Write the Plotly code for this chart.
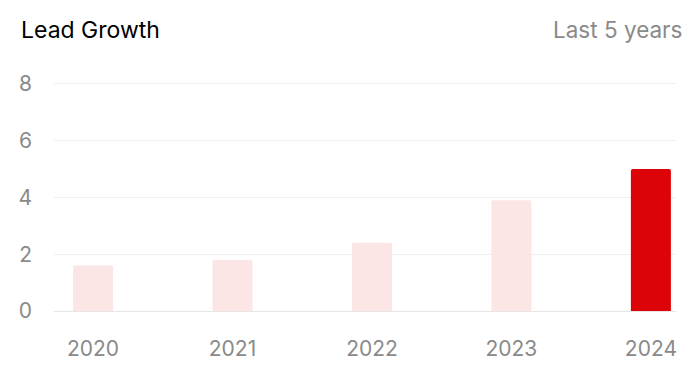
import plotly.graph_objects as go

years = ["2020", "2021", "2022", "2023", "2024"]
leads = [1.6, 1.8, 2.4, 3.9, 5.0]
bar_colors = ["#fce5e5", "#fce5e5", "#fce5e5", "#fce5e5", "#dd0407"]
y_ticks = [0, 2, 4, 6, 8]

W, H = 700, 365
L, R, T, B = 54, 24, 81, 54
pw = W - L - R
ph = H - T - B

fig = go.Figure(go.Bar(
    x=years, y=leads,
    marker=dict(color=bar_colors, line=dict(width=0), cornerradius=2),
    width=0.287,
    hoverinfo="x+y",
))

fig.update_layout(
    width=W, height=H,
    margin=dict(l=L, r=R, t=T, b=B),
    paper_bgcolor="white", plot_bgcolor="white",
    font=dict(family="Inter, Roboto, sans-serif", size=21, color="#8a8a8a"),
    showlegend=False,
    xaxis=dict(
        type="category", range=[-0.28, 4.18],
        showgrid=False, zeroline=False, showline=False, ticks="",
        ticklabelstandoff=23, automargin=False,
        tickfont=dict(size=21, color="#8a8a8a"),
        fixedrange=True,
    ),
    yaxis=dict(
        range=[0, 8.1], tickvals=y_ticks,
        showgrid=True, gridcolor="#efefef", gridwidth=1,
        zeroline=True, zerolinecolor="#e6e6e6", zerolinewidth=1,
        showline=False, ticks="",
        ticklabelstandoff=21, automargin=False,
        tickfont=dict(size=21, color="#8a8a8a"),
        fixedrange=True,
    ),
    annotations=[
        dict(text="Lead Growth", xref="paper", yref="paper",
             x=(19 - L) / pw, y=(H - B - 30) / ph,
             xanchor="left", yanchor="middle", showarrow=False,
             font=dict(family="Inter, Roboto, sans-serif", size=23, color="#000000", weight=400)),
        dict(text="Last 5 years", xref="paper", yref="paper",
             x=(684 - L) / pw, y=(H - B - 30) / ph,
             xanchor="right", yanchor="middle", showarrow=False,
             font=dict(family="Inter, Roboto, sans-serif", size=22.5, color="#8a8a8a")),
    ],
)

fig.write_html(
    "out.html",
    config={"displayModeBar": False},
    post_script="document.body.style.margin='0';document.body.style.overflow='hidden';",
)
